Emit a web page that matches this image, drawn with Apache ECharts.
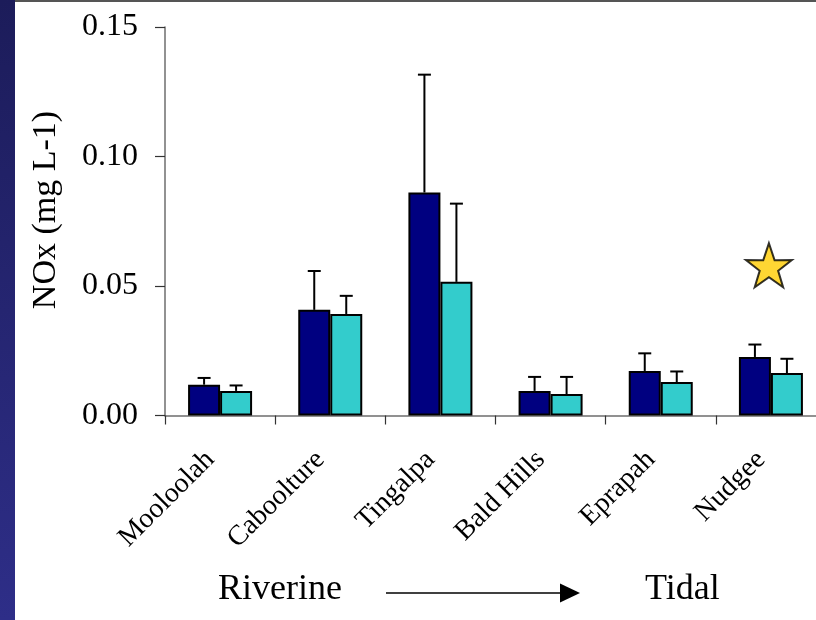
<!DOCTYPE html>
<html>
<head>
<meta charset="utf-8">
<script src="https://cdn.jsdelivr.net/npm/echarts@6/dist/echarts.min.js"></script>
<style>
  html, body { margin: 0; padding: 0; background: #fff; overflow: hidden; }
  #chart { width: 840px; height: 620px; }
</style>
</head>
<body>
<div id="chart"></div>
<script>
// sites, riverine -> tidal
var sites = ['Mooloolah', 'Caboolture', 'Tingalpa', 'Bald Hills', 'Eprapah', 'Nudgee'];
// mean NOx (mg L-1) and upper error (mean + SE)
var meanA = [0.0119, 0.0408, 0.0861, 0.0095, 0.0172, 0.0226];
var errA  = [0.0145, 0.0558, 0.1316, 0.0149, 0.0240, 0.0274];
var meanB = [0.0095, 0.0392, 0.0516, 0.0083, 0.0129, 0.0164];
var errB  = [0.0116, 0.0462, 0.0818, 0.0149, 0.0170, 0.0219];
var yTicks = [0, 0.05, 0.10, 0.15];
var starPoint = [5, 0.058];

var BAR_W = 32;
var FONT = '"Liberation Serif", "Times New Roman", serif';

var chart = echarts.init(document.getElementById('chart'));

function errorItem(offset) {
    return function (params, api) {
        var idx = api.value(0);
        var base = api.coord([idx, api.value(1)]);
        var top = api.coord([idx, api.value(2)]);
        var x = base[0] + offset;
        var style = { stroke: '#000', lineWidth: 2 };
        return {
            type: 'group',
            children: [
                { type: 'line', shape: { x1: x, y1: base[1], x2: x, y2: top[1] }, style: style },
                { type: 'line', shape: { x1: x - 6.5, y1: top[1], x2: x + 6.5, y2: top[1] }, style: style }
            ]
        };
    };
}

chart.setOption({
    animation: false,
    backgroundColor: '#fff',
    grid: { left: 165, top: 27, width: 661, height: 388.5 },
    xAxis: {
        type: 'category',
        data: sites,
        axisLine: { lineStyle: { color: '#6e6e6e', width: 1.5 } },
        axisTick: { show: true, length: 9, lineStyle: { color: '#333', width: 1.2 } },
        axisLabel: {
            rotate: 45, margin: 30, interval: 0, padding: [0, 14, 0, 0],
            fontFamily: FONT, fontSize: 28, color: '#000'
        }
    },
    yAxis: {
        type: 'value', min: 0, max: 0.15, interval: 0.05,
        splitLine: { show: false },
        axisLine: { show: true, lineStyle: { color: '#6e6e6e', width: 1.5 } },
        axisTick: { show: true, length: 10, lineStyle: { color: '#333', width: 1.2 } },
        axisLabel: {
            margin: 27, padding: [12, 0, 0, 0], fontFamily: FONT, fontSize: 32, color: '#000',
            formatter: function (v) { return v.toFixed(2); }
        }
    },
    series: [
        {
            type: 'bar', data: meanA, barWidth: BAR_W, barGap: '0%',
            itemStyle: { color: '#000080', borderColor: '#000', borderWidth: 2 }
        },
        {
            type: 'bar', data: meanB, barWidth: BAR_W, barGap: '0%',
            itemStyle: { color: '#33CCCC', borderColor: '#000', borderWidth: 2 }
        },
        {
            type: 'custom', renderItem: errorItem(-BAR_W / 2), z: 3,
            data: sites.map(function (s, i) { return [i, meanA[i], errA[i]]; })
        },
        {
            type: 'custom', renderItem: errorItem(BAR_W / 2), z: 3,
            data: sites.map(function (s, i) { return [i, meanB[i], errB[i]]; })
        },
        {
            type: 'scatter', z: 4,
            symbol: 'path://M50 0 L61.8 35.1 L97.6 34.5 L69.1 56.6 L79.4 90.5 L50 70 L20.6 90.5 L30.9 56.6 L2.4 34.5 L38.2 35.1 Z',
            symbolSize: [46, 44],
            symbolOffset: [-2, 0],
            itemStyle: { color: '#FFCC00', borderColor: '#000', borderWidth: 2 },
            data: [starPoint]
        }
    ],
    graphic: [
        {
            type: 'rect', left: 0, top: 0, z: 10,
            shape: { width: 15, height: 620 },
            style: {
                fill: new echarts.graphic.LinearGradient(0, 0, 0, 1, [
                    { offset: 0, color: '#1c1c5a' },
                    { offset: 1, color: '#2e2e88' }
                ])
            }
        },
        {
            type: 'rect', left: 15, top: 0, z: 10,
            shape: { width: 830, height: 2 },
            style: { fill: '#555' }
        },
        {
            type: 'text', x: 46, y: 210, rotation: Math.PI / 2,
            style: {
                text: 'NOx (mg L-1)', font: '34px ' + FONT, fill: '#000',
                align: 'center', verticalAlign: 'middle'
            }
        },
        {
            type: 'text', x: 218, y: 590,
            style: { text: 'Riverine', font: '36px ' + FONT, fill: '#000', verticalAlign: 'middle' }
        },
        {
            type: 'text', x: 645, y: 590,
            style: { text: 'Tidal', font: '36px ' + FONT, fill: '#000', verticalAlign: 'middle' }
        },
        {
            type: 'line',
            shape: { x1: 386, y1: 593, x2: 562, y2: 593 },
            style: { stroke: '#000', lineWidth: 1.5 }
        },
        {
            type: 'polygon',
            shape: { points: [[560, 583.5], [580, 593], [560, 602.5]] },
            style: { fill: '#000' }
        }
    ]
});
</script>
</body>
</html>
